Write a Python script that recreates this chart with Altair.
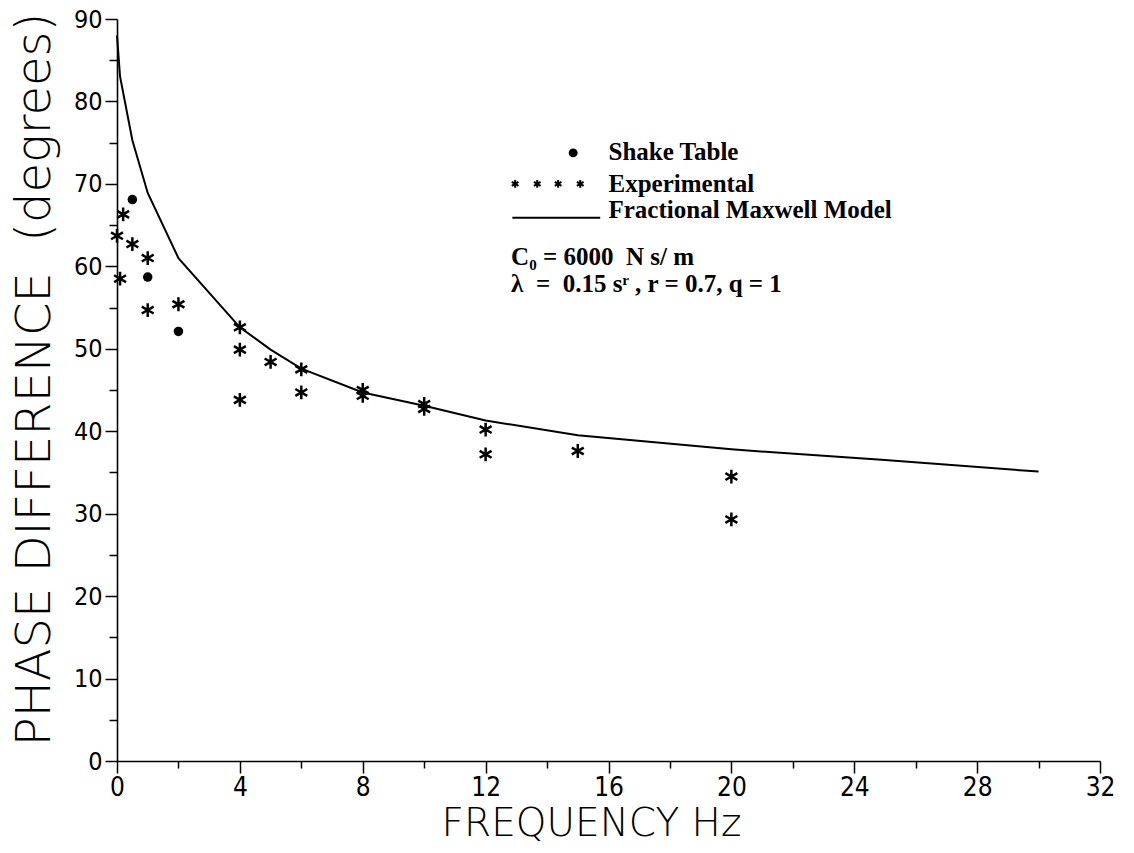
import altair as alt
import pandas as pd

# ---------------- data ----------------
# Fractional Maxwell model (solid curve)
model_f = [0, 0.1, 0.5, 1, 2, 4, 5, 6, 8, 10, 12, 15, 20, 25, 30]
model_phase = [88.0, 83.0, 75.3, 68.9, 61.0, 52.6, 49.9, 47.6, 44.7, 43.1, 41.3, 39.5, 37.8, 36.5, 35.1]

# Experimental (asterisks)
exp_f = [0, 0.1, 0.2, 0.5, 1, 1, 2, 4, 4, 4, 5, 6, 6, 8, 8, 10, 10, 12, 12, 15, 20, 20]
exp_phase = [63.7, 58.5, 66.3, 62.7, 61.0, 54.7, 55.4, 52.6, 49.9, 43.8, 48.4, 47.5, 44.7,
             45.0, 44.3, 43.3, 42.7, 40.2, 37.2, 37.6, 34.5, 29.3]

# Shake table (dots)
shake_f = [0.5, 1, 2]
shake_phase = [68.1, 58.7, 52.1]

# legend / annotation texts
legend_labels = ["Shake Table", "Experimental", "Fractional Maxwell Model"]
param_labels = ["C\u2080 = 6000\u00a0\u00a0N s/ m",
                "\u03bb\u00a0\u00a0=\u00a0\u00a00.15 s\u02b3 , r = 0.7, q = 1"]

x_ticks = list(range(0, 33, 2))
y_ticks = list(range(0, 91, 5))

# ---------------- tables ----------------
model_df = pd.DataFrame({"f": model_f, "phase": model_phase})
exp_df = pd.DataFrame({"f": exp_f, "phase": exp_phase})
shake_df = pd.DataFrame({"f": shake_f, "phase": shake_phase})

# annotation placement (in data units)
leg_text_df = pd.DataFrame({"label": legend_labels, "f": [16.0, 16.0, 16.0], "phase": [73.9, 70.0, 66.85]})
param_df = pd.DataFrame({"label": param_labels, "f": [12.83, 12.83], "phase": [61.1, 57.8]})
leg_star_df = pd.DataFrame({"f": [12.96, 13.68, 14.36, 15.08], "phase": [70.0] * 4})
leg_dot_df = pd.DataFrame({"f": [14.85], "phase": [73.76]})
leg_line_df = pd.DataFrame({"f": [12.87], "f2": [15.73], "phase": [65.88]})

LABEL_FONT = "DejaVu Sans Condensed, Liberation Sans Narrow, DejaVu Sans"
TITLE_FONT = "DejaVu Sans"
SERIF = "Liberation Serif"
ASTERISK = "M0,-1L0,1M-0.866,-0.5L0.866,0.5M-0.866,0.5L0.866,-0.5"

xscale = alt.Scale(domain=[0, 32], nice=False, zero=False)
yscale = alt.Scale(domain=[0, 90], nice=False, zero=False)

x_axis = alt.Axis(
    values=x_ticks,
    labelExpr="datum.value % 4 == 0 ? datum.label : ''",
    tickSize={"condition": {"test": "datum.value % 4 == 0", "value": 12}, "value": 7},
    tickWidth=1.5, tickColor="black", domainColor="black", domainWidth=1.6,
    labelFont=LABEL_FONT, labelFontSize=26, labelColor="black",
    labelPadding=1, labelFlush=False, labelOverlap=False, grid=False,
    titleFont=TITLE_FONT, titleFontSize=39, titleFontWeight=200,
    titleColor="black", titleX=474, titleY=62, titleAlign="center", titleBaseline="middle",
)
y_axis = alt.Axis(
    values=y_ticks,
    labelExpr="datum.value % 10 == 0 ? datum.label : ''",
    tickSize={"condition": {"test": "datum.value % 10 == 0", "value": 12}, "value": 8},
    tickWidth=1.5, tickColor="black", domainColor="black", domainWidth=1.6,
    labelFont=LABEL_FONT, labelFontSize=25, labelColor="black",
    labelPadding=3, labelFlush=False, labelOverlap=False, grid=False,
    titleFont=TITLE_FONT, titleFontSize=48, titleFontWeight=200,
    titleColor="black", titleX=-82, titleY=360, titleAngle=270, titleAlign="center",
    titleBaseline="middle",
)

X = alt.X("f:Q", scale=xscale, axis=x_axis, title="FREQUENCY Hz")
Y = alt.Y("phase:Q", scale=yscale, axis=y_axis, title="PHASE DIFFERENCE\u00a0 (degrees)")

line = alt.Chart(model_df).mark_line(color="black", strokeWidth=2).encode(x=X, y=Y)

stars = alt.Chart(exp_df).mark_point(
    shape=ASTERISK, filled=False, stroke="black", strokeWidth=2.5, size=190, opacity=1
).encode(x=X, y=Y)

dots = alt.Chart(shake_df).mark_circle(size=90, color="black", opacity=1).encode(x=X, y=Y)

leg_text = alt.Chart(leg_text_df).mark_text(
    align="left", baseline="middle", font=SERIF, fontSize=25, fontWeight="bold", color="black"
).encode(x=X, y=Y, text="label:N")

param_text = alt.Chart(param_df).mark_text(
    align="left", baseline="middle", font=SERIF, fontSize=25, fontWeight="bold", color="black"
).encode(x=X, y=Y, text="label:N")

leg_stars = alt.Chart(leg_star_df).mark_point(
    shape=ASTERISK, filled=False, stroke="black", strokeWidth=2, size=60, opacity=1
).encode(x=X, y=Y)

leg_dot = alt.Chart(leg_dot_df).mark_circle(size=80, color="black", opacity=1).encode(x=X, y=Y)

leg_line = alt.Chart(leg_line_df).mark_rule(color="black", strokeWidth=2).encode(
    x=X, x2="f2:Q", y=Y
)

chart = alt.layer(
    line, stars, dots, leg_text, param_text, leg_stars, leg_dot, leg_line
).properties(
    width=983, height=742,
    padding={"left": 117, "top": 19, "right": 34, "bottom": 92},
    autosize=alt.AutoSizeParams(type="none"),
    background="white",
).configure_view(strokeWidth=0)

chart.save("out.html", embed_options={"renderer": "svg", "actions": False})
